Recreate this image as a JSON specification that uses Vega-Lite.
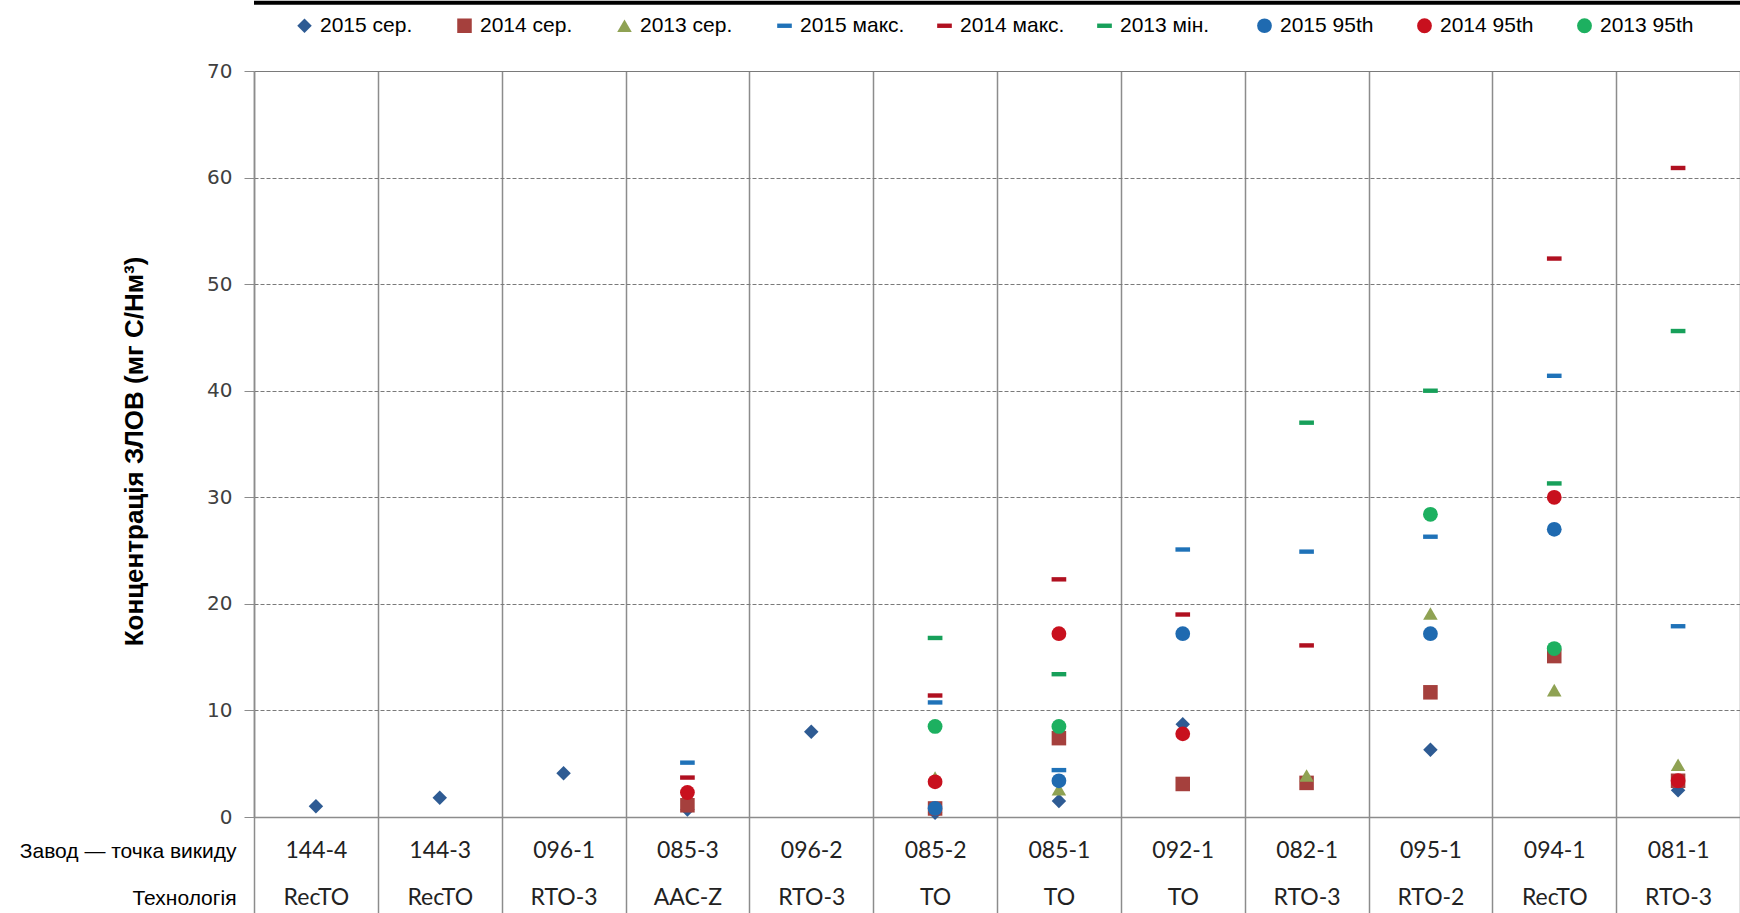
{
  "$schema": "https://vega.github.io/schema/vega-lite/v6.json",
  "width": 1486,
  "height": 746,
  "autosize": {"type": "none"},
  "padding": {"left": 254, "top": 71, "right": 0, "bottom": 96},
  "background": "white",
  "config": {"view": {"stroke": null}},
  "layer": [
    {
      "data": {"values": [{}]},
      "mark": {"type": "rule", "color": "black", "strokeWidth": 4},
      "encoding": {"y": {"datum": 76.4, "type": "quantitative"}}
    },
    {
      "data": {
        "values": [
          {"site": "144-4|RecTO", "s": "2015 сер.", "v": 1.0},
          {"site": "144-3|RecTO", "s": "2015 сер.", "v": 1.8},
          {"site": "096-1|RTO-3", "s": "2015 сер.", "v": 4.1},
          {"site": "085-3|AAC-Z", "s": "2015 сер.", "v": 0.7},
          {"site": "096-2|RTO-3", "s": "2015 сер.", "v": 8.0},
          {"site": "085-2|TO", "s": "2015 сер.", "v": 0.4},
          {"site": "085-1|TO", "s": "2015 сер.", "v": 1.5},
          {"site": "092-1|TO", "s": "2015 сер.", "v": 8.7},
          {"site": "095-1|RTO-2", "s": "2015 сер.", "v": 6.3},
          {"site": "081-1|RTO-3", "s": "2015 сер.", "v": 2.5},

          {"site": "085-3|AAC-Z", "s": "2014 сер.", "v": 1.1},
          {"site": "085-2|TO", "s": "2014 сер.", "v": 0.8},
          {"site": "085-1|TO", "s": "2014 сер.", "v": 7.4},
          {"site": "092-1|TO", "s": "2014 сер.", "v": 3.1},
          {"site": "082-1|RTO-3", "s": "2014 сер.", "v": 3.2},
          {"site": "095-1|RTO-2", "s": "2014 сер.", "v": 11.7},
          {"site": "094-1|RecTO", "s": "2014 сер.", "v": 15.1},
          {"site": "081-1|RTO-3", "s": "2014 сер.", "v": 3.4},

          {"site": "085-2|TO", "s": "2013 сер.", "v": 3.7},
          {"site": "085-1|TO", "s": "2013 сер.", "v": 2.6},
          {"site": "082-1|RTO-3", "s": "2013 сер.", "v": 3.9},
          {"site": "095-1|RTO-2", "s": "2013 сер.", "v": 19.1},
          {"site": "094-1|RecTO", "s": "2013 сер.", "v": 11.9},
          {"site": "081-1|RTO-3", "s": "2013 сер.", "v": 4.9},

          {"site": "085-3|AAC-Z", "s": "2015 макс.", "v": 5.1},
          {"site": "085-2|TO", "s": "2015 макс.", "v": 10.75},
          {"site": "085-1|TO", "s": "2015 макс.", "v": 4.4},
          {"site": "092-1|TO", "s": "2015 макс.", "v": 25.1},
          {"site": "082-1|RTO-3", "s": "2015 макс.", "v": 24.9},
          {"site": "095-1|RTO-2", "s": "2015 макс.", "v": 26.3},
          {"site": "094-1|RecTO", "s": "2015 макс.", "v": 41.4},
          {"site": "081-1|RTO-3", "s": "2015 макс.", "v": 17.9},

          {"site": "085-3|AAC-Z", "s": "2014 макс.", "v": 3.7},
          {"site": "085-2|TO", "s": "2014 макс.", "v": 11.4},
          {"site": "085-1|TO", "s": "2014 макс.", "v": 22.3},
          {"site": "092-1|TO", "s": "2014 макс.", "v": 19.0},
          {"site": "082-1|RTO-3", "s": "2014 макс.", "v": 16.1},
          {"site": "094-1|RecTO", "s": "2014 макс.", "v": 52.4},
          {"site": "081-1|RTO-3", "s": "2014 макс.", "v": 60.9},

          {"site": "085-2|TO", "s": "2013 мін.", "v": 16.8},
          {"site": "085-1|TO", "s": "2013 мін.", "v": 13.4},
          {"site": "082-1|RTO-3", "s": "2013 мін.", "v": 37.0},
          {"site": "095-1|RTO-2", "s": "2013 мін.", "v": 40.0},
          {"site": "094-1|RecTO", "s": "2013 мін.", "v": 31.3},
          {"site": "081-1|RTO-3", "s": "2013 мін.", "v": 45.6},

          {"site": "085-2|TO", "s": "2015 95th", "v": 0.8},
          {"site": "085-1|TO", "s": "2015 95th", "v": 3.4},
          {"site": "092-1|TO", "s": "2015 95th", "v": 17.2},
          {"site": "095-1|RTO-2", "s": "2015 95th", "v": 17.2},
          {"site": "094-1|RecTO", "s": "2015 95th", "v": 27.0},

          {"site": "085-3|AAC-Z", "s": "2014 95th", "v": 2.3},
          {"site": "085-2|TO", "s": "2014 95th", "v": 3.3},
          {"site": "085-1|TO", "s": "2014 95th", "v": 17.2},
          {"site": "092-1|TO", "s": "2014 95th", "v": 7.8},
          {"site": "094-1|RecTO", "s": "2014 95th", "v": 30.0},
          {"site": "081-1|RTO-3", "s": "2014 95th", "v": 3.4},

          {"site": "085-2|TO", "s": "2013 95th", "v": 8.5},
          {"site": "085-1|TO", "s": "2013 95th", "v": 8.5},
          {"site": "095-1|RTO-2", "s": "2013 95th", "v": 28.4},
          {"site": "094-1|RecTO", "s": "2013 95th", "v": 15.8}
        ]
      },
      "mark": {"type": "point", "filled": true, "opacity": 1, "strokeWidth": 0},
      "encoding": {
        "x": {
          "field": "site",
          "type": "nominal",
          "sort": ["144-4|RecTO", "144-3|RecTO", "096-1|RTO-3", "085-3|AAC-Z", "096-2|RTO-3", "085-2|TO", "085-1|TO", "092-1|TO", "082-1|RTO-3", "095-1|RTO-2", "094-1|RecTO", "081-1|RTO-3"],
          "scale": {"type": "band", "paddingInner": 0, "paddingOuter": 0},
          "axis": {
            "title": ["Завод — точка викиду", "Технологія"],
            "titleFont": "Liberation Sans",
            "titleFontSize": 21,
            "titleFontWeight": "normal",
            "titleColor": "#000000",
            "titleAlign": "right",
            "titleBaseline": "alphabetic",
            "titleAngle": 0,
            "titleX": -18,
            "titleY": 40,
            "titleLineHeight": 47,
            "labelExpr": "isString(datum.value) ? split(datum.value, '|') : ''",
            "labelFont": "Lato",
            "labelFontSize": 23,
            "labelColor": "#222222",
            "labelLineHeight": 47,
            "labelBaseline": "alphabetic",
            "labelPadding": -56,
            "labelAngle": 0,
            "tickBand": "extent",
            "ticks": true,
            "tickSize": 96,
            "tickColor": "#8c8c8c",
            "tickWidth": 1.5,
            "grid": true,
            "gridColor": "#8c8c8c",
            "gridWidth": 1.5,
            "domain": true,
            "domainColor": "#8c8c8c",
            "domainWidth": 1.5
          }
        },
        "y": {
          "field": "v",
          "type": "quantitative",
          "scale": {"domain": [0, 70], "nice": false, "zero": true},
          "axis": {
            "title": "Концентрація ЗЛОВ (мг С/Нм³)",
            "titleFont": "Liberation Sans",
            "titleFontWeight": "bold",
            "titleFontSize": 26,
            "titleColor": "#000000",
            "titleAngle": -90,
            "titleX": -120,
            "titleY": 380,
            "titleAlign": "center",
            "titleBaseline": "middle",
            "values": [0, 10, 20, 30, 40, 50, 60, 70],
            "labelFont": "DejaVu Sans",
            "labelFontSize": 20,
            "labelColor": "#404040",
            "labelPadding": 12,
            "tickSize": 10,
            "tickColor": "#8c8c8c",
            "grid": true,
            "gridColor": "#7a7a7a",
            "gridDash": {"condition": {"test": "datum.value === 70 || datum.value === 0", "value": []}, "value": [4, 2]},
            "domain": true,
            "domainColor": "#8c8c8c",
            "domainWidth": 1.5
          }
        },
        "color": {
          "field": "s",
          "type": "nominal",
          "sort": null,
          "scale": {
            "domain": ["2015 сер.", "2014 сер.", "2013 сер.", "2015 макс.", "2014 макс.", "2013 мін.", "2015 95th", "2014 95th", "2013 95th"],
            "range": ["#2E5B93", "#A5403D", "#8FA253", "#1F72B8", "#B01020", "#17A05A", "#1F6AB0", "#C8101E", "#1DB060"]
          },
          "legend": {
            "orient": "none",
            "legendX": 40,
            "legendY": -56,
            "direction": "horizontal",
            "columns": 9,
            "gridAlign": "all",
            "columnPadding": 29,
            "title": null,
            "labelFont": "Liberation Sans",
            "labelFontSize": 21,
            "labelColor": "#000000",
            "symbolSize": 90,
            "symbolStrokeWidth": 0,
            "labelOffset": 5,
            "padding": 0,
            "encode": {"symbols": {"update": {"size": {"value": 90}}}}
          }
        },
        "shape": {
          "field": "s",
          "type": "nominal",
          "sort": null,
          "scale": {
            "domain": ["2015 сер.", "2014 сер.", "2013 сер.", "2015 макс.", "2014 макс.", "2013 мін.", "2015 95th", "2014 95th", "2013 95th"],
            "range": ["diamond", "square", "triangle-up", "M-1,-0.3H1V0.3H-1Z", "M-1,-0.3H1V0.3H-1Z", "M-1,-0.3H1V0.3H-1Z", "circle", "circle", "circle"]
          }
        },
        "size": {
          "field": "s",
          "type": "nominal",
          "sort": null,
          "scale": {
            "domain": ["2015 сер.", "2014 сер.", "2013 сер.", "2015 макс.", "2014 макс.", "2013 мін.", "2015 95th", "2014 95th", "2013 95th"],
            "range": [210, 220, 230, 250, 250, 250, 140, 140, 140]
          },
          "legend": null
        }
      }
    }
  ]
}
